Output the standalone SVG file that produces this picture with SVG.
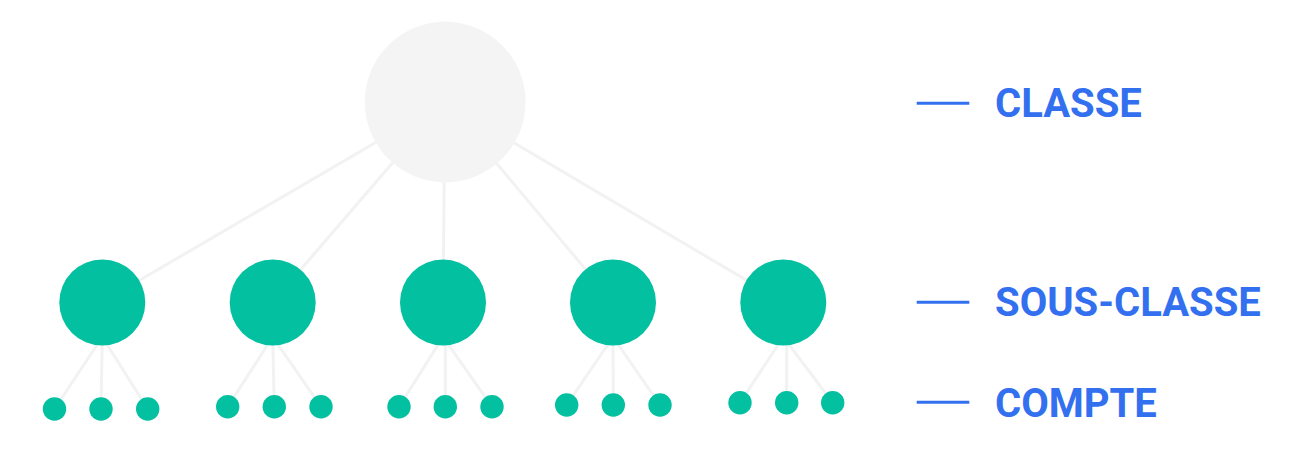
<svg xmlns="http://www.w3.org/2000/svg" width="1300" height="450" viewBox="0 0 1300 450">
<style>
.edge{stroke:#f2f2f2;stroke-width:3;fill:none}
.root{fill:#f4f4f4}
.sub{fill:#02c0a0}
.leaf{fill:#02c0a0}
.tick{stroke:#3370f0;stroke-width:3}
.lbl{font-family:Roboto,"Liberation Sans",sans-serif;font-weight:700;font-size:40px;fill:#3370f0}
</style>
<rect width="1300" height="450" fill="#ffffff"/>
<g id="connectors">
<line class="edge" x1="445" y1="102" x2="102.3" y2="302"/>
<line class="edge" x1="445" y1="102" x2="272.7" y2="302"/>
<line class="edge" x1="445" y1="102" x2="443" y2="302"/>
<line class="edge" x1="445" y1="102" x2="613" y2="302"/>
<line class="edge" x1="445" y1="102" x2="783.3" y2="302"/>
<line class="edge" x1="102.3" y1="337" x2="54.5" y2="409"/>
<line class="edge" x1="102.3" y1="337" x2="101" y2="409"/>
<line class="edge" x1="102.3" y1="337" x2="147.7" y2="409"/>
<line class="edge" x1="272.7" y1="337" x2="227.7" y2="406.7"/>
<line class="edge" x1="272.7" y1="337" x2="274.3" y2="406.7"/>
<line class="edge" x1="272.7" y1="337" x2="321" y2="406.7"/>
<line class="edge" x1="443" y1="337" x2="399" y2="406.7"/>
<line class="edge" x1="445.3" y1="337" x2="445.3" y2="406.7"/>
<line class="edge" x1="443" y1="337" x2="492" y2="406.7"/>
<line class="edge" x1="613" y1="337" x2="566.7" y2="405"/>
<line class="edge" x1="613" y1="337" x2="613.3" y2="405"/>
<line class="edge" x1="613" y1="337" x2="660" y2="405"/>
<line class="edge" x1="783.3" y1="337" x2="740" y2="402.7"/>
<line class="edge" x1="786.7" y1="337" x2="786.7" y2="402.7"/>
<line class="edge" x1="783.3" y1="337" x2="832.7" y2="402.7"/>
</g>
<g id="node-classe"><circle class="root" cx="445.2" cy="102" r="80.4"/></g>
<g id="node-sub1"><circle class="sub" cx="102.3" cy="302.5" r="43"/></g>
<g id="node-sub2"><circle class="sub" cx="272.7" cy="302.5" r="43"/></g>
<g id="node-sub3"><circle class="sub" cx="443" cy="302.5" r="43"/></g>
<g id="node-sub4"><circle class="sub" cx="613" cy="302.5" r="43"/></g>
<g id="node-sub5"><circle class="sub" cx="783.3" cy="302.5" r="43"/></g>
<g id="leaves1">
<circle class="leaf" cx="54.5" cy="409" r="11.7"/>
<circle class="leaf" cx="101" cy="409" r="11.7"/>
<circle class="leaf" cx="147.7" cy="409" r="11.7"/>
</g>
<g id="leaves2">
<circle class="leaf" cx="227.7" cy="406.7" r="11.7"/>
<circle class="leaf" cx="274.3" cy="406.7" r="11.7"/>
<circle class="leaf" cx="321" cy="406.7" r="11.7"/>
</g>
<g id="leaves3">
<circle class="leaf" cx="399" cy="406.7" r="11.7"/>
<circle class="leaf" cx="445.3" cy="406.7" r="11.7"/>
<circle class="leaf" cx="492" cy="406.7" r="11.7"/>
</g>
<g id="leaves4">
<circle class="leaf" cx="566.7" cy="405" r="11.7"/>
<circle class="leaf" cx="613.3" cy="405" r="11.7"/>
<circle class="leaf" cx="660" cy="405" r="11.7"/>
</g>
<g id="leaves5">
<circle class="leaf" cx="740" cy="402.7" r="11.7"/>
<circle class="leaf" cx="786.7" cy="402.7" r="11.7"/>
<circle class="leaf" cx="832.7" cy="402.7" r="11.7"/>
</g>
<g id="legend-classe">
<line class="tick" x1="916.7" y1="103.3" x2="969.3" y2="103.3"/>
<text class="lbl" x="995" y="116.7">CLASSE</text>
</g>
<g id="legend-sous-classe">
<line class="tick" x1="916.7" y1="302.3" x2="969.3" y2="302.3"/>
<text class="lbl" x="995" y="316">SOUS-CLASSE</text>
</g>
<g id="legend-compte">
<line class="tick" x1="916.7" y1="402.3" x2="969.3" y2="402.3"/>
<text class="lbl" x="995" y="416.7">COMPTE</text>
</g>
</svg>
